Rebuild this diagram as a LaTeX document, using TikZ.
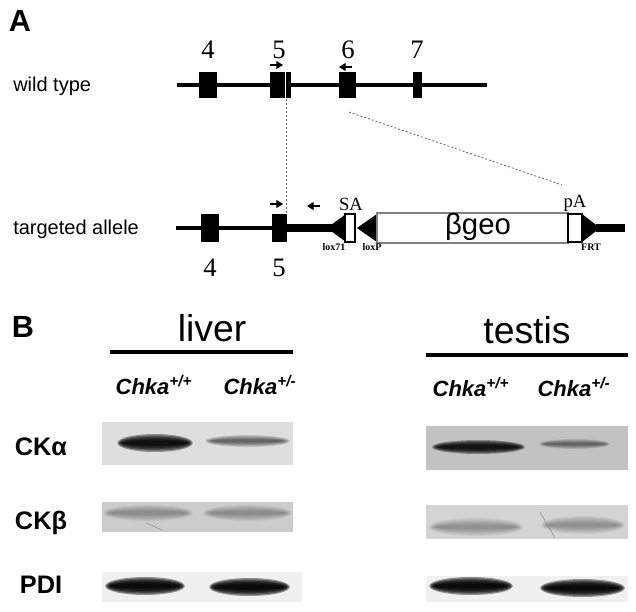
\documentclass[tikz,border=0pt]{standalone}
\usepackage{fontspec}
\setmainfont{Liberation Serif}
\setsansfont{Liberation Sans}
\usetikzlibrary{arrows.meta}

% a blurred band on a blot: x1, x2, y, height, opacity
\newcommand\blotband[5]{%
  \foreach \s in {2.0,1.7,1.4,1.1,0.8,0.5}{
    \fill[black,opacity=#5] ({(#1+#2)/2},#3) ellipse[x radius={(#2-#1)/2*(0.82+0.1*\s)}, y radius={#4/2*\s}];
  }
}

\tikzset{
  panel/.style={font=\sffamily\bfseries\fontsize{23}{25}\selectfont,inner sep=0pt},
  rowlab/.style={font=\sffamily\fontsize{15}{17}\selectfont,inner sep=0pt,anchor=west},
  exnum/.style={font=\fontsize{20}{22}\selectfont,inner sep=0pt},
  site/.style={font=\fontsize{14}{16}\selectfont,inner sep=0pt},
  tiny/.style={font=\bfseries\fontsize{7.5}{8}\selectfont,inner sep=0pt},
  tissue/.style={font=\sffamily\fontsize{28}{30}\selectfont,inner sep=0pt},
  geno/.style={font=\sffamily\bfseries\itshape\fontsize{16.5}{18}\selectfont,inner sep=0pt},
  prot/.style={font=\sffamily\bfseries\fontsize{19}{21}\selectfont,inner sep=0pt},
  guide/.style={black!60,line width=0.6pt,dash pattern=on 1.5pt off 1.5pt},
  primer/.style={line width=0.8pt,-{Triangle[length=5pt,width=6pt]}},
}

\begin{document}
\begin{tikzpicture}[x=0.75pt,y=-0.75pt]
\useasboundingbox (0,0) rectangle (636,611);

%% panel A
\node[panel] (lblA) at (20,21) {A};
\node[rowlab] (wt) at (13,86) {wild type};
\node[rowlab] (ta) at (13,229) {targeted allele};

% wild type locus
\draw[line width=2.8pt] (177,85)--(487,85);
\fill (199,72) rectangle (217,98);
\fill (270,72) rectangle (291,98);
\fill (339,72) rectangle (356,98);
\fill (413,72) rectangle (422,98);
\draw[white,line width=0.6pt] (285,72)--(285,98);

\node[exnum] (w4) at (208,50) {4};
\node[exnum] (w5) at (279,50) {5};
\node[exnum] (w6) at (348,50) {6};
\node[exnum] (w7) at (417,50) {7};

\draw[primer] (270,65)--(283,65);
\draw[primer] (352,67)--(339,67);

% dotted guides
\draw[guide] (286,99)--(286,213);
\draw[guide] (349,112)--(562,185);

% targeted allele
\draw[line width=2.8pt] (176,228)--(288,228);
\draw[line width=5.5pt] (287,228)--(332,228);
\draw[line width=5.5pt] (596,228)--(625,228);
\fill (201,214) rectangle (219,242);
\fill (272,214) rectangle (287,242);

\draw[primer] (270,204)--(283,204);
\draw[primer] (320,206)--(307,206);

\fill (327,228)--(346,214)--(346,242)--cycle;
\draw[fill=white,line width=0.8pt] (345,214) rectangle (355,242);
\fill (357,228)--(377,214)--(377,242)--cycle;
\draw[fill=white,draw=gray,line width=0.8pt] (377,213) rectangle (568,243);
\draw[fill=white,line width=0.8pt] (568,214) rectangle (582,242);
\fill (600,228)--(582,214)--(582,242)--cycle;

\node[font=\sffamily\fontsize{22}{24}\selectfont,inner sep=0pt] (geo) at (478,227) {βgeo};
\node[site] (sa) at (351,204) {SA};
\node[site] (pa) at (575,203) {pA};
\node[tiny] (lox71) at (334,247) {lox71};
\node[tiny] (loxP) at (372,247) {loxP};
\node[tiny] (frt) at (591,247) {FRT};

\node[exnum] (t4) at (210,268) {4};
\node[exnum] (t5) at (279,268) {5};

%% panel B
\node[panel] (lblB) at (23,327) {B};

\node[tissue] (liver) at (212,328) {liver};
\draw[line width=2.4pt] (110,352)--(293,352);
\node[tissue] (testis) at (527,330) {testis};
\draw[line width=2.4pt] (426,355)--(628,355);

\node[geno] (lwt) at (154,385) {Chka\textsuperscript{+/+}};
\node[geno] (lhet) at (260,385) {Chka\textsuperscript{+/-}};
\node[geno] (twt) at (471,387) {Chka\textsuperscript{+/+}};
\node[geno] (thet) at (574,387) {Chka\textsuperscript{+/-}};

\node[prot] (cka) at (41,447) {CKα};
\node[prot] (ckb) at (41,523) {CKβ};
\node[prot] (pdi) at (41,585) {PDI};

% liver blots
\fill[black!13] (102,422) rectangle (293,465);
\blotband{118}{192}{443}{9}{0.35}
\blotband{206}{289}{441}{6}{0.12}
\fill[black!20] (102,502) rectangle (293,532);
\blotband{104}{192}{513}{8}{0.06}
\blotband{204}{291}{513}{8}{0.06}
\draw[black!45,line width=0.4pt] (146,523) .. controls (152,525) and (157,528) .. (162,530);
\fill[black!6] (102,572) rectangle (302,602);
\blotband{106}{184}{586}{9}{0.4}
\blotband{210}{289}{587}{9}{0.4}

% testis blots
\fill[black!24] (426,426) rectangle (628,470);
\blotband{433}{524}{447}{7}{0.32}
\blotband{540}{609}{444}{5}{0.1}
\fill[black!17] (426,505) rectangle (628,539);
\blotband{430}{522}{527}{9}{0.06}
\blotband{542}{624}{525}{9}{0.06}
\draw[black!45,line width=0.4pt] (540,512)--(555,538);
\fill[black!6] (426,576) rectangle (628,602);
\blotband{430}{512}{586}{9}{0.4}
\blotband{541}{624}{588}{9}{0.4}

\end{tikzpicture}
\end{document}
